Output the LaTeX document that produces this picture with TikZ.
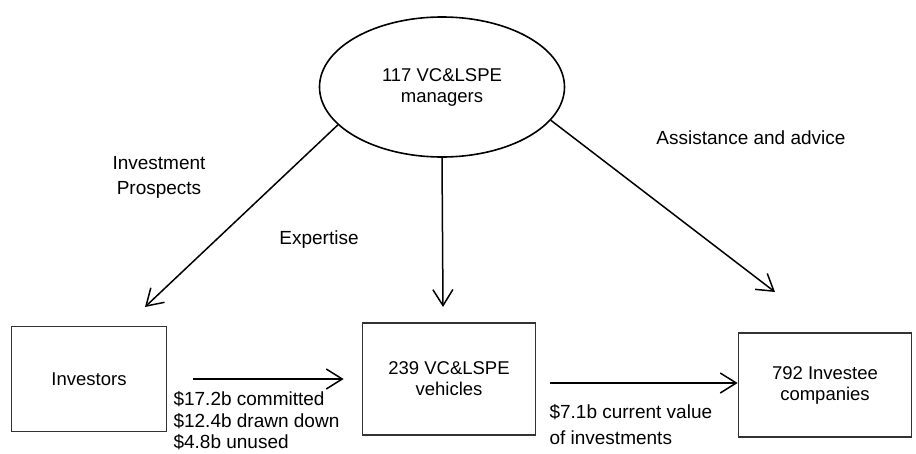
\documentclass[tikz,border=0pt]{standalone}
\usepackage{fontspec}
\setmainfont{Liberation Sans}
\usetikzlibrary{arrows.meta,positioning,shapes.geometric}

\begin{document}
\begin{tikzpicture}[x=1pt,y=-1pt,on grid,
    >={Straight Barb[length=16pt,width=20pt]},
    box/.style={draw=black!80,line width=1.7pt,align=center,font=\fontsize{18.5}{21}\selectfont},
    lbl/.style={align=center,font=\fontsize{19}{25}\selectfont},
    flow/.style={->,line width=1.5pt}]
  \useasboundingbox (0,0) rectangle (916,453);
  \node[draw,ellipse,line width=1.6pt,minimum width=245pt,minimum height=140pt,align=center,font=\fontsize{18.5}{21}\selectfont] (mgr) at (442,87) {117 VC\&LSPE\\managers};
  \node[box,minimum width=173pt,minimum height=112pt] (veh) [below right=292pt and 7pt of mgr] {239 VC\&LSPE\\vehicles};
  \node[box,minimum width=155pt,minimum height=105pt] (inv) [left=360pt of veh] {Investors};
  \node[box,minimum width=173pt,minimum height=104pt] (comp) [below right=6pt and 376pt of veh] {792 Investee\\companies};

  \node[lbl] (prosp) at (159,177) {Investment\\Prospects};
  \node[lbl] (exp) at (319,240) {Expertise};
  \node[lbl] (assist) at (751,138) {Assistance and advice};
  \node[lbl,align=left,anchor=north west,font=\fontsize{19}{21.5}\selectfont] (money) at (170,388) {\$17.2b committed\\\$12.4b drawn down\\\$4.8b unused};
  \node[lbl,align=left,anchor=north west,font=\fontsize{19}{26}\selectfont] (value) at (546,401) {\$7.1b current value\\of investments};

  \coordinate (tinv) at (145,307);
  \coordinate (tveh) at (443,307);
  \coordinate (tcomp) at (775,292);
  \coordinate (vout) at (550,383);
  \path[flow]
    (mgr.200) edge (tinv)
    (mgr.south) edge (tveh)
    (mgr.-17) edge (tcomp)
    (inv.east) edge[shorten <=26pt,shorten >=18pt] (veh.west)
    (vout) edge (vout -| comp.west);
\end{tikzpicture}
\end{document}
